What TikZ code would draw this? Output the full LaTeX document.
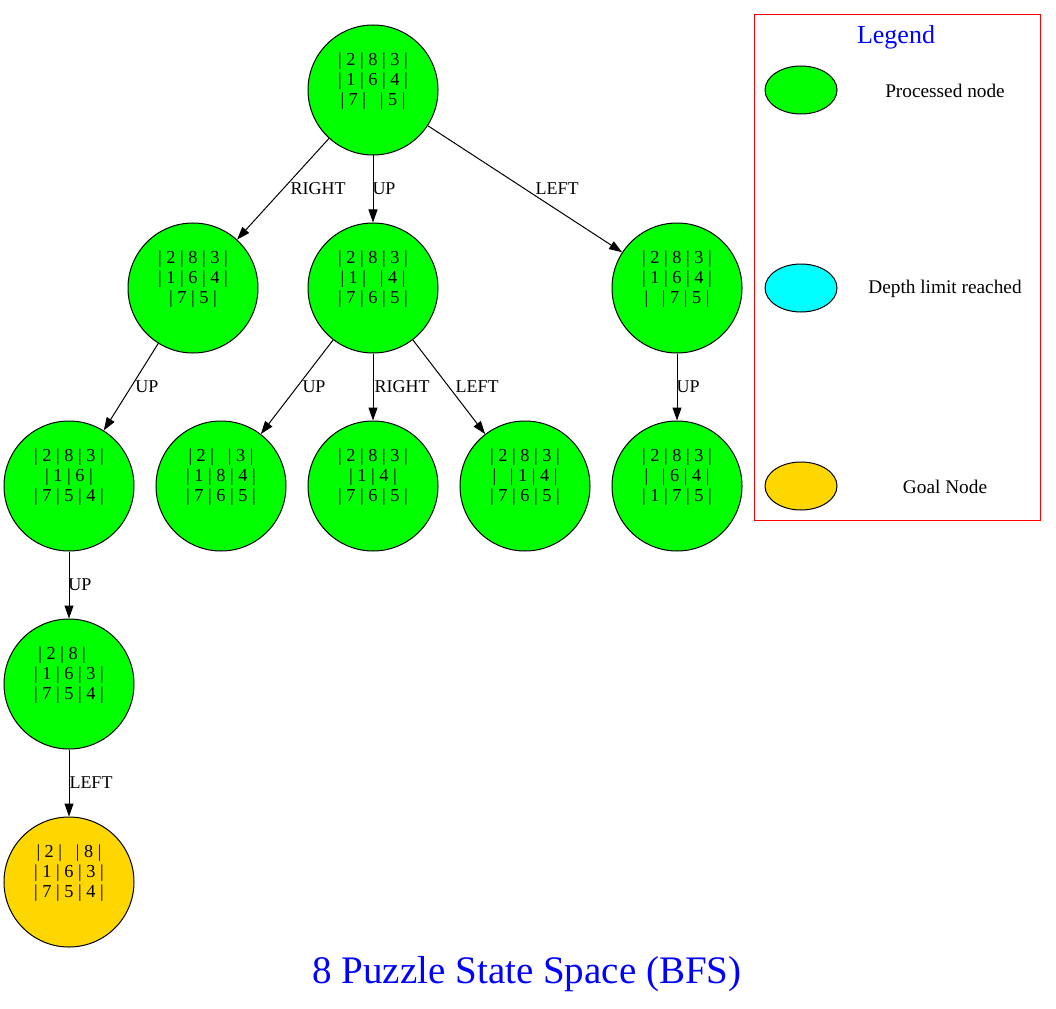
\documentclass[tikz,border=0pt]{standalone}
\usepackage{fontspec}
\setmainfont{Liberation Serif}
\usetikzlibrary{arrows.meta,shapes.geometric}
\definecolor{pgreen}{HTML}{00FF00}
\definecolor{pcyan}{HTML}{00FFFF}
\definecolor{pgold}{HTML}{FFD700}
\definecolor{pblue}{HTML}{0000FF}
\definecolor{pred}{HTML}{FF0000}
\newcommand\gapE{\hspace{0.75em}}
\newcommand\gapT{\hspace*{0.75em}}
\newcommand\lastln{\\\rule[-2pt]{0pt}{2pt}}
\tikzset{
  puz/.style={circle, draw=black, line width=1pt, fill=pgreen, minimum size=130pt,
    inner sep=0pt, align=center, font=\fontsize{18.3}{19.6}\selectfont},
  goal/.style={puz, fill=pgold},
  edge/.style={draw=black, line width=1pt, -{Triangle[length=13pt,width=9pt]}},
  elbl/.style={font=\fontsize{18}{20}\selectfont, inner sep=0pt},
  legell/.style={ellipse, draw=black, line width=1pt, minimum width=72pt, minimum height=48pt, inner sep=0pt},
  legtxt/.style={font=\fontsize{19.3}{21}\selectfont, inner sep=0pt}
}
\begin{document}
\begin{tikzpicture}[x=1pt,y=-1pt]
\useasboundingbox (0,0) rectangle (1056,1008);
% nodes
\node[puz] (r)  at (373,90)  {| 2 | 8 | 3 |\\| 1 | 6 | 4 |\\| 7 |\gapE| 5 |\lastln};
\node[puz] (n1) at (193,288) {| 2 | 8 | 3 |\\| 1 | 6 | 4 |\\| 7 | 5 |\gapT\lastln};
\node[puz] (n2) at (373,288) {| 2 | 8 | 3 |\\| 1 |\gapE| 4 |\\| 7 | 6 | 5 |\lastln};
\node[puz] (n3) at (677,288) {| 2 | 8 | 3 |\\| 1 | 6 | 4 |\\|\gapE| 7 | 5 |\lastln};
\node[puz] (n4) at (69,486)  {| 2 | 8 | 3 |\\| 1 | 6 |\gapT\\| 7 | 5 | 4 |\lastln};
\node[puz] (n5) at (221,486) {| 2 |\gapE| 3 |\\| 1 | 8 | 4 |\\| 7 | 6 | 5 |\lastln};
\node[puz] (n6) at (373,486) {| 2 | 8 | 3 |\\| 1 | 4 |\gapT\\| 7 | 6 | 5 |\lastln};
\node[puz] (n7) at (525,486) {| 2 | 8 | 3 |\\|\gapE| 1 | 4 |\\| 7 | 6 | 5 |\lastln};
\node[puz] (n8) at (677,486) {| 2 | 8 | 3 |\\|\gapE| 6 | 4 |\\| 1 | 7 | 5 |\lastln};
\node[puz] (n9) at (69,684)  {| 2 | 8 |\gapT\\| 1 | 6 | 3 |\\| 7 | 5 | 4 |\lastln};
\node[goal] (n10) at (69,882) {| 2 |\gapE| 8 |\\| 1 | 6 | 3 |\\| 7 | 5 | 4 |\lastln};
% edges
\draw[edge] (r) -- (n1);
\draw[edge] (r) -- (n2);
\draw[edge] (r) -- (n3);
\draw[edge] (n1) -- (n4);
\draw[edge] (n2) -- (n5);
\draw[edge] (n2) -- (n6);
\draw[edge] (n2) -- (n7);
\draw[edge] (n3) -- (n8);
\draw[edge] (n4) -- (n9);
\draw[edge] (n9) -- (n10);
% edge labels
\node[elbl] (l1) at (318,189) {RIGHT};
\node[elbl] (l2) at (384,189) {UP};
\node[elbl] (l3) at (557,189) {LEFT};
\node[elbl] (l4) at (147,387) {UP};
\node[elbl] (l5) at (314,387) {UP};
\node[elbl] (l6) at (402,387) {RIGHT};
\node[elbl] (l7) at (477,387) {LEFT};
\node[elbl] (l8) at (688,387) {UP};
\node[elbl] (l9) at (80,585) {UP};
\node[elbl] (l10) at (91,783) {LEFT};
% legend
\node[draw=pred, line width=1pt, minimum width=286pt, minimum height=505pt, inner sep=0pt] (lg) at (897,267.5) {};
\node[font=\fontsize{26}{28}\selectfont, text=pblue, inner sep=0pt] (lgt) at (896,37) {Legend};
\node[legell, fill=pgreen] (e1) at (801,90) {};
\node[legell, fill=pcyan] (e2) at (801,288) {};
\node[legell, fill=pgold] (e3) at (801,486) {};
\node[legtxt] (t1) at (945,91) {Processed node};
\node[legtxt] (t2) at (945,289) {Depth limit reached};
\node[legtxt] (t3) at (945,487) {Goal Node};
% title
\node[font=\fontsize{39}{42}\selectfont, text=pblue, inner sep=0pt] (title) at (527,974) {8 Puzzle State Space (BFS)};
\end{tikzpicture}
\end{document}
